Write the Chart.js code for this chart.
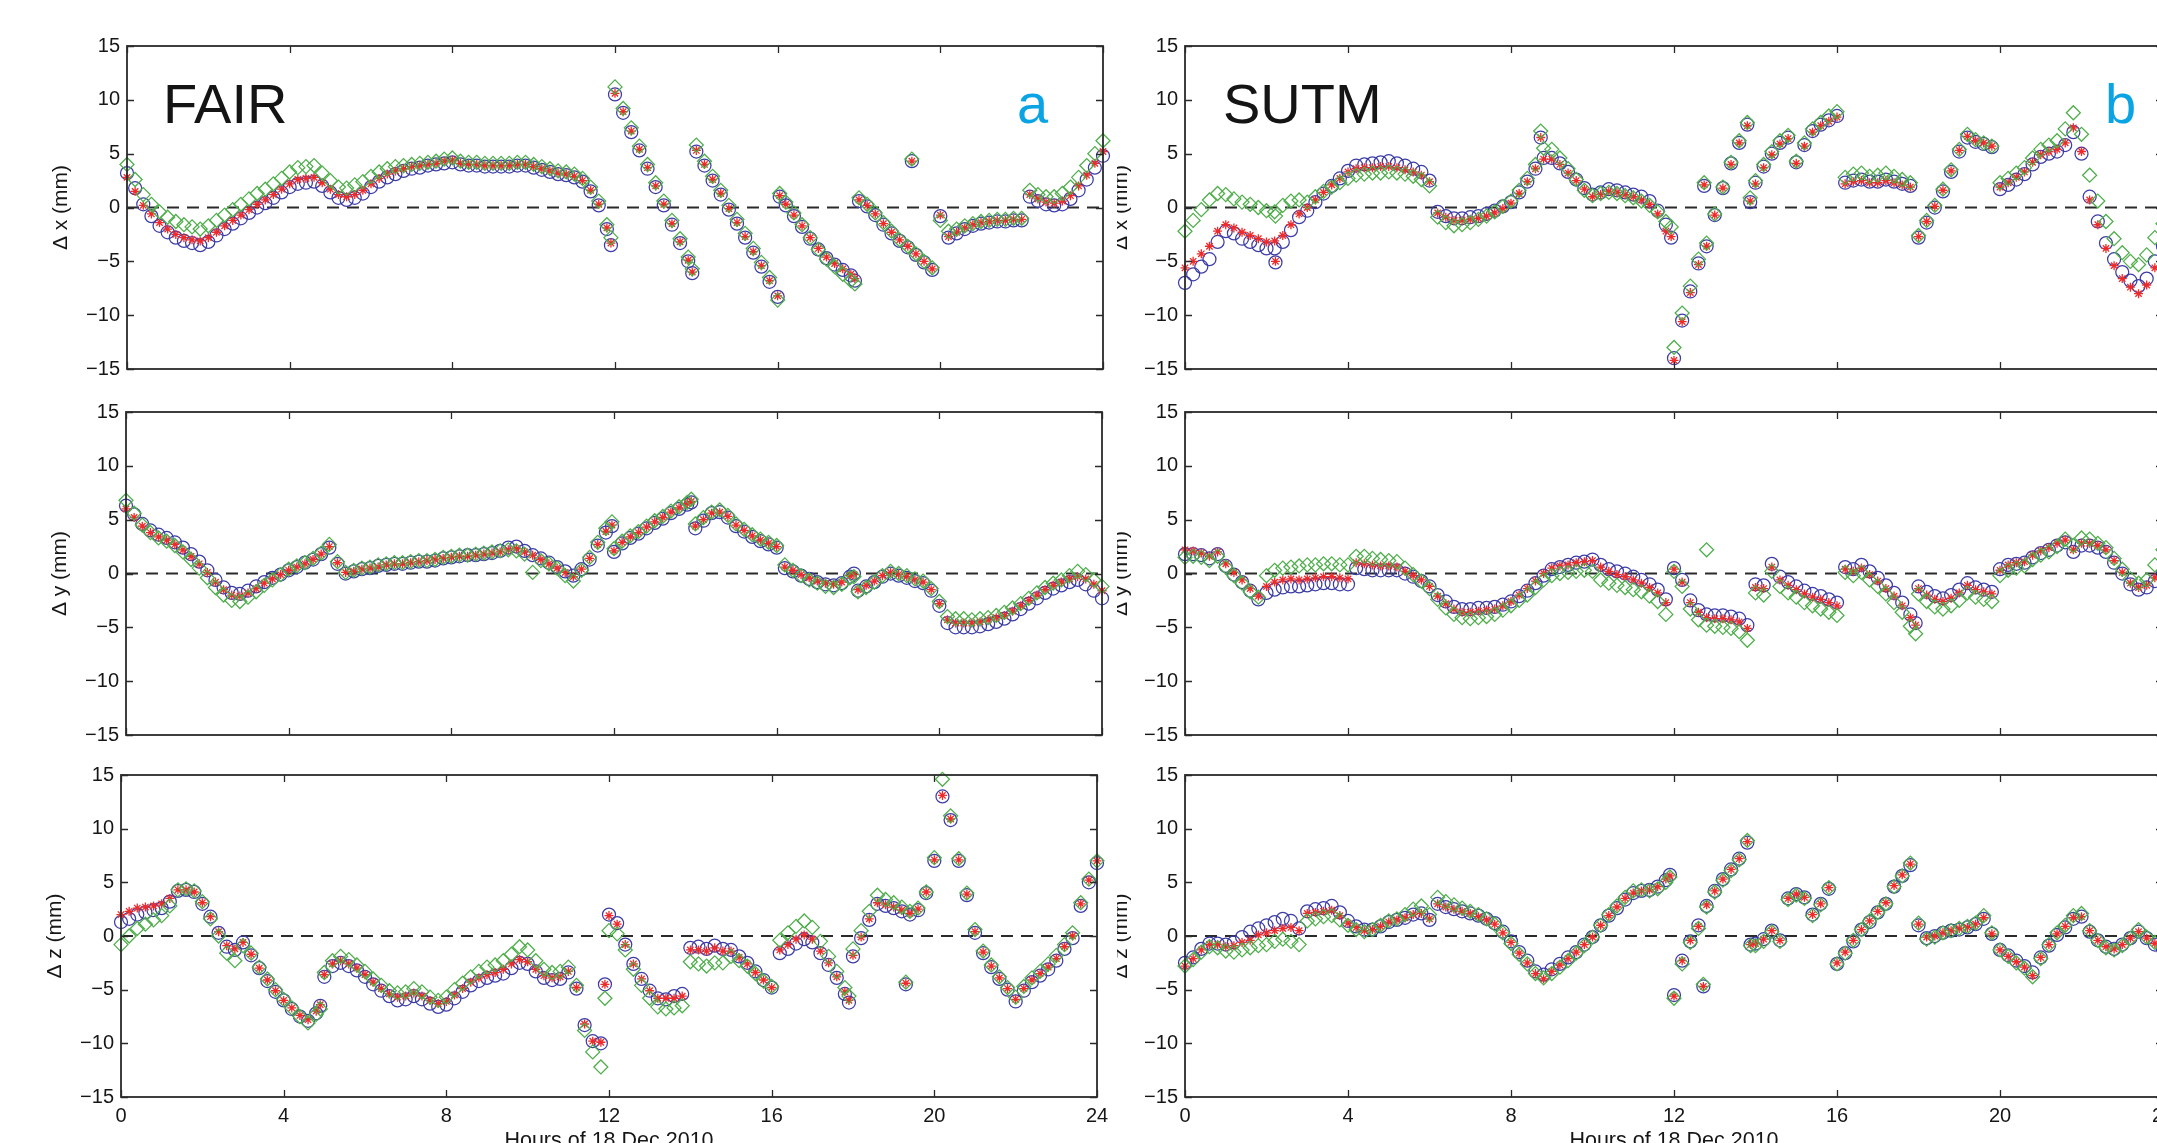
<!DOCTYPE html>
<html>
<head>
<meta charset="utf-8">
<script src="https://cdn.jsdelivr.net/npm/chart.js@4.4.0/dist/chart.umd.min.js"></script>
<style>
  html, body { margin: 0; padding: 0; background: #fff; overflow: hidden; }
  body { width: 2157px; height: 1143px; position: relative; }
  canvas { position: absolute; }
  canvas.leftcol { background: #fff; z-index: 2; }
  canvas.rightcol { z-index: 1; }
</style>
</head>
<body>
<script>
// sampling grid, hours of the day (every 12 minutes)
const hours = Array.from({ length: 121 }, (_, i) => Math.round(i * 2) / 10);
const hourTicks = [0, 4, 8, 12, 16, 20, 24];
const mmTicks = [-15, -10, -5, 0, 5, 10, 15];

// ---- FAIR, delta x ----
const tlBlue = [
  3.2, 1.8, 0.3, -0.8, -1.7, -2.3, -2.8, -3.1, -3.3, -3.5,
  -3.2, -2.6, -2.0, -1.5, -1.0, -0.5, 0.0, 0.4, 0.9, 1.4,
  1.9, 2.2, 2.3, 2.4, 2.0, 1.4, 0.9, 0.7, 0.9, 1.3,
  1.9, 2.4, 2.8, 3.1, 3.4, 3.6, 3.7, 3.9, 4.0, 4.1,
  4.2, 4.0, 3.9, 3.9, 3.8, 3.8, 3.8, 3.8, 3.9, 3.9,
  3.7, 3.5, 3.3, 3.1, 3.0, 2.8, 2.4, 1.5, 0.2, -2.0,
  10.5, 8.8, 7.0, 5.3, 3.6, 1.9, 0.2, -1.6, -3.3, -5.0,
  5.2, 3.9, 2.5, 1.2, -0.2, -1.5, -2.8, -4.2, -5.5, -6.9,
  -8.3, 0.2, -0.8, -1.8, -2.9, -3.9, -4.7, -5.3, -5.8, -6.3,
  0.6, 0.1, -0.7, -1.6, -2.4, -3.1, -3.7, -4.4, -5.1, -5.8,
  -0.8, -2.8, -2.4, -2.0, -1.7, -1.5, -1.4, -1.3, -1.3, -1.2,
  -1.2, 1.0, 0.6, 0.3, 0.2, 0.3, 0.8, 1.6, 2.6, 3.7,
  4.8
];
const tlRed = [
  2.8, 1.5, 0.2, -0.6, -1.4, -2.0, -2.5, -2.8, -3.0, -3.1,
  -2.8, -2.3, -1.7, -1.2, -0.7, -0.2, 0.3, 0.7, 1.2, 1.7,
  2.2, 2.6, 2.7, 2.8, 2.3, 1.7, 1.2, 1.0, 1.2, 1.6,
  2.2, 2.7, 3.1, 3.4, 3.6, 3.8, 3.9, 4.0, 4.1, 4.3,
  4.4, 4.1, 4.0, 4.0, 3.9, 3.9, 3.9, 3.9, 4.0, 4.0,
  3.8, 3.6, 3.4, 3.2, 3.1, 2.9, 2.5, 1.6, 0.3, -1.9,
  10.6, 8.9, 7.1, 5.4, 3.7, 2.0, 0.3, -1.5, -3.2, -4.9,
  5.3, 4.0, 2.6, 1.3, -0.1, -1.4, -2.7, -4.1, -5.4, -6.8,
  -8.2, 0.3, -0.7, -1.7, -2.8, -3.8, -4.6, -5.2, -5.7, -6.2,
  0.7, 0.2, -0.6, -1.5, -2.3, -3.0, -3.6, -4.3, -5.0, -5.7,
  -0.7, -2.7, -2.3, -1.9, -1.6, -1.4, -1.3, -1.2, -1.2, -1.1,
  -1.1, 1.2, 0.8, 0.5, 0.4, 0.6, 1.1, 2.0, 3.0, 4.1,
  5.2
];
const tlGreen = [
  4.0, 2.6, 1.2, 0.3, -0.4, -0.9, -1.3, -1.6, -1.8, -2.0,
  -1.7, -1.2, -0.7, -0.2, 0.3, 0.8, 1.3, 1.7, 2.2, 2.7,
  3.3, 3.7, 3.8, 3.9, 3.2, 2.5, 1.9, 1.8, 2.1, 2.4,
  2.9, 3.3, 3.6, 3.8, 3.9, 4.0, 4.1, 4.2, 4.3, 4.5,
  4.6, 4.3, 4.2, 4.2, 4.1, 4.1, 4.1, 4.1, 4.2, 4.2,
  4.0, 3.8, 3.6, 3.4, 3.3, 3.1, 2.7, 1.9, 0.6, -1.6,
  11.2, 9.2, 7.4, 5.7, 4.0, 2.3, 0.6, -1.2, -2.9, -4.6,
  5.8, 4.3, 2.9, 1.6, 0.2, -1.1, -2.4, -3.8, -5.1, -6.5,
  -8.6, 0.5, -0.5, -1.6, -2.8, -3.9, -4.8, -5.5, -6.2, -6.8,
  0.9, 0.3, -0.5, -1.4, -2.2, -3.0, -3.6, -4.3, -5.0, -5.6,
  -1.2, -2.2, -2.0, -1.7, -1.5, -1.3, -1.2, -1.1, -1.1, -1.0,
  -1.0, 1.6, 1.2, 1.0, 1.0, 1.3, 1.9, 2.8, 3.9, 5.0,
  6.2
];
const tlExtraHours = [11.9, 13.9, 16.05, 17.9, 19.3];
const tlExtraBlue = [-3.5, -6.1, 1.0, -6.8, 4.3];
const tlExtraRed = [-3.3, -6.0, 1.1, -6.6, 4.3];
const tlExtraGreen = [-2.8, -5.7, 1.3, -7.1, 4.5];

// ---- FAIR, delta y ----
const mlBlue = [
  6.3, 5.5, 4.6, 4.0, 3.6, 3.3, 2.9, 2.4, 1.8, 1.1,
  0.3, -0.6, -1.3, -1.8, -1.9, -1.6, -1.2, -0.8, -0.4, -0.1,
  0.3, 0.6, 1.0, 1.3, 1.8, 2.4, 0.9, 0.0, 0.2, 0.4,
  0.5, 0.7, 0.8, 0.9, 0.9, 1.0, 1.1, 1.1, 1.2, 1.4,
  1.5, 1.6, 1.7, 1.7, 1.8, 1.9, 2.1, 2.4, 2.5, 2.1,
  1.7, 1.4, 1.0, 0.6, 0.2, -0.2, 0.4, 1.3, 2.6, 3.8,
  2.0, 2.8, 3.3, 3.7, 4.2, 4.7, 5.1, 5.6, 6.0, 6.4,
  4.2, 4.9, 5.6, 5.7, 5.2, 4.4, 3.9, 3.4, 3.0, 2.7,
  2.4, 0.5, 0.2, -0.2, -0.5, -0.8, -1.0, -1.1, -0.9, -0.3,
  -1.6, -1.2, -0.8, -0.3, 0.0, -0.2, -0.4, -0.7, -0.9, -1.6,
  -3.0, -4.6, -5.0, -5.0, -5.0, -4.9, -4.7, -4.5, -4.2, -3.8,
  -3.3, -2.8, -2.3, -1.8, -1.4, -1.1, -0.8, -0.6, -1.0, -1.6,
  -2.3
];
const mlRed = [
  6.0, 5.2, 4.4, 3.8, 3.4, 3.1, 2.7, 2.2, 1.6, 0.9,
  0.1, -0.8, -1.5, -2.0, -2.1, -1.8, -1.4, -0.9, -0.5, -0.1,
  0.3, 0.6, 0.9, 1.3, 1.8, 2.5, 1.0, 0.1, 0.2, 0.4,
  0.5, 0.6, 0.8, 0.9, 0.9, 1.0, 1.1, 1.2, 1.3, 1.4,
  1.5, 1.6, 1.6, 1.7, 1.8, 1.9, 2.0, 2.2, 2.3, 2.0,
  1.7, 1.3, 0.9, 0.5, 0.1, -0.3, 0.4, 1.4, 2.7, 3.9,
  2.1, 2.9, 3.4, 3.8, 4.3, 4.8, 5.2, 5.7, 6.1, 6.5,
  4.4, 5.0, 5.6, 5.7, 5.3, 4.5, 4.0, 3.5, 3.1, 2.8,
  2.5, 0.6, 0.3, -0.1, -0.4, -0.7, -0.9, -1.0, -0.8, -0.2,
  -1.5, -1.1, -0.7, -0.2, 0.1, -0.1, -0.3, -0.6, -0.8, -1.5,
  -2.8, -4.3, -4.6, -4.6, -4.6, -4.5, -4.3, -4.1, -3.9, -3.5,
  -3.0, -2.5, -2.0, -1.5, -1.1, -0.8, -0.5, -0.3, -0.5, -1.0,
  -1.6
];
const mlGreen = [
  6.8, 5.6, 4.5, 3.8, 3.3, 3.0, 2.6, 2.0, 1.3, 0.5,
  -0.4, -1.3, -2.0, -2.5, -2.6, -2.2, -1.7, -1.1, -0.6, -0.1,
  0.4, 0.7, 1.0, 1.4, 1.9, 2.7, 1.1, 0.1, 0.3, 0.5,
  0.6, 0.8, 0.9, 1.0, 1.0, 1.1, 1.2, 1.2, 1.3, 1.5,
  1.6, 1.7, 1.7, 1.8, 1.9, 2.0, 2.1, 2.2, 2.1, 1.8,
  0.1, 1.2, 0.9, 0.5, -0.2, -0.7, 0.3, 1.5, 2.9, 4.2,
  2.3, 3.0, 3.5, 3.9, 4.4, 4.9, 5.3, 5.8, 6.2, 6.6,
  4.6, 5.2, 5.7, 5.9, 5.4, 4.6, 4.1, 3.6, 3.2, 2.9,
  2.6, 0.8, 0.3, -0.2, -0.6, -0.9, -1.2, -1.3, -1.0, -0.4,
  -1.7, -1.3, -0.8, -0.2, 0.2, 0.0, -0.2, -0.5, -0.7, -1.4,
  -2.6, -4.0, -4.2, -4.2, -4.3, -4.2, -4.1, -3.9, -3.6, -3.2,
  -2.8, -2.3, -1.8, -1.3, -0.9, -0.6, -0.2, 0.2, -0.1, -0.6,
  -1.2
];
const mlExtraHours = [11.95, 13.9, 17.9];
const mlExtraBlue = [4.4, 6.6, 0.0];
const mlExtraRed = [4.5, 6.7, -0.1];
const mlExtraGreen = [4.8, 6.9, -0.3];

// ---- FAIR, delta z ----
const blBlue = [
  1.3, 1.6, 2.0, 2.2, 2.4, 2.6, 3.2, 4.2, 4.3, 4.1,
  3.0, 1.8, 0.3, -1.0, -1.3, -0.6, -1.8, -3.0, -4.2, -5.2,
  -6.0, -6.8, -7.5, -7.9, -7.2, -3.8, -2.8, -2.5, -2.8, -3.2,
  -3.8, -4.5, -5.1, -5.6, -6.0, -5.9, -5.6, -5.9, -6.3, -6.6,
  -6.4, -5.8, -5.2, -4.6, -4.2, -3.9, -3.7, -3.5, -3.0, -2.5,
  -2.6, -3.3, -3.9, -4.1, -4.0, -3.4, -4.9, -8.3, -9.8, -10.0,
  2.0, 1.2, -0.8, -2.6, -4.0, -5.1, -5.8, -5.9, -5.6, -5.4,
  -1.1, -1.0, -1.2, -0.9, -1.2, -1.3, -1.9, -2.5, -3.3, -4.1,
  -4.8, -1.6, -1.2, -0.7, -0.3, -0.6, -1.6, -2.7, -3.9, -5.4,
  -1.9, -0.2, 1.5, 3.0, 2.8, 2.6, 2.3, 2.0, 2.4, 4.0,
  7.0, 13.0, 10.8, 7.0, 3.8, 0.3, -1.6, -2.9, -4.0, -5.0,
  -6.1, -5.1, -4.3, -3.7, -3.1, -2.3, -1.2, -0.2, 2.8, 5.0,
  6.8
];
const blRed = [
  2.0, 2.3, 2.6, 2.7, 2.8, 3.0, 3.5, 4.3, 4.3, 4.1,
  3.1, 1.8, 0.4, -0.9, -1.2, -0.6, -1.7, -3.0, -4.1, -5.1,
  -6.0, -6.7, -7.4, -7.8, -7.0, -3.6, -2.6, -2.3, -2.6, -3.0,
  -3.6, -4.3, -4.9, -5.4, -5.7, -5.6, -5.3, -5.6, -6.0, -6.3,
  -6.1, -5.5, -4.9, -4.3, -3.9, -3.6, -3.4, -3.1, -2.6, -2.2,
  -2.4, -3.1, -3.7, -3.9, -3.8, -3.3, -4.8, -8.2, -9.8, -9.9,
  1.9, 1.1, -0.8, -2.6, -4.0, -5.1, -5.8, -5.8, -5.8, -5.6,
  -1.3, -1.3, -1.4, -1.1, -1.4, -1.4, -2.0, -2.6, -3.4, -4.1,
  -4.8, -1.3, -0.8, -0.3, 0.1, -0.3, -1.4, -2.5, -3.8, -5.2,
  -1.8, -0.1, 1.6, 3.1, 2.9, 2.7, 2.4, 2.1, 2.5, 4.1,
  7.1, 13.1, 10.9, 7.1, 3.9, 0.4, -1.5, -2.8, -3.9, -4.9,
  -5.9, -4.9, -4.1, -3.5, -2.9, -2.1, -1.0, 0.0, 3.0, 5.2,
  7.0
];
const blGreen = [
  -0.8, 0.0, 0.7, 1.1, 1.5, 1.9, 2.8, 4.3, 4.4, 4.2,
  3.2, 1.6, 0.0, -1.6, -2.3, -0.9, -1.6, -2.9, -4.0, -5.0,
  -5.9, -6.7, -7.5, -8.1, -7.3, -3.4, -2.3, -1.9, -2.2, -2.7,
  -3.3, -4.0, -4.6, -5.1, -5.3, -5.2, -4.9, -5.2, -5.7, -6.0,
  -5.7, -5.0, -4.4, -3.8, -3.3, -2.9, -2.7, -2.3, -1.7, -1.0,
  -1.3, -2.3, -3.1, -3.4, -3.3, -2.9, -4.6, -8.8, -10.8, -12.2,
  0.5, 0.2, -1.3, -3.1, -4.6, -5.8, -6.6, -6.8, -6.7, -6.5,
  -2.4, -2.6, -2.8, -2.5, -2.5, -1.9, -2.3, -2.8, -3.5, -4.2,
  -4.7, -0.4, 0.3, 0.9, 1.4, 0.8, -0.5, -1.9, -3.3, -4.8,
  -1.2, 0.5, 2.3, 3.8, 3.4, 3.1, 2.7, 2.3, 2.6, 4.1,
  7.3, 14.6, 11.2, 7.2, 4.0, 0.6, -1.4, -2.7, -3.8, -4.8,
  -5.7, -4.7, -3.9, -3.3, -2.6, -1.8, -0.8, 0.3, 3.1, 5.3,
  7.0
];
const blExtraHours = [11.9, 17.9, 19.3, 4.9];
const blExtraBlue = [-4.5, -6.2, -4.5, -6.5];
const blExtraRed = [-4.5, -6.0, -4.4, -6.4];
const blExtraGreen = [-5.8, -5.6, -4.3, -6.8];

// ---- SUTM, delta x ----
const trBlue = [
  -7.0, -6.2, -5.5, -4.8, -3.2, -2.2, -2.4, -2.9, -3.2, -3.5,
  -3.8, -3.8, -3.2, -2.1, -0.9, -0.3, 0.5, 1.3, 2.0, 2.7,
  3.4, 3.9, 4.0, 4.1, 4.2, 4.3, 4.1, 3.9, 3.6, 3.3,
  2.5, -0.4, -0.8, -1.0, -1.0, -0.9, -0.8, -0.6, -0.3, 0.1,
  0.5, 1.4, 2.4, 3.6, 4.6, 4.6, 4.1, 3.3, 2.6, 1.8,
  1.2, 1.4, 1.7, 1.6, 1.4, 1.2, 1.0, 0.6, -0.3, -1.6,
  -14.0, -10.5, -7.8, -5.2, -3.6, -0.7, 1.8, 4.1, 6.0, 7.7,
  2.3, 3.8, 5.0, 6.0, 6.5, 4.2, 5.8, 7.1, 7.7, 8.1,
  8.5, 2.3, 2.5, 2.6, 2.4, 2.4, 2.6, 2.4, 2.2, 2.0,
  -2.8, -1.4, 0.0, 1.5, 3.3, 5.2, 6.5, 6.1, 5.9, 5.6,
  1.7, 2.1, 2.6, 3.1, 4.0, 4.7, 5.0, 5.2, 5.8, 7.0,
  5.0, 1.0, -1.3, -3.3, -4.8, -6.0, -6.8, -7.3, -6.6, -5.0,
  -3.6
];
const trRed = [
  -5.6, -5.0, -4.3, -3.6, -2.2, -1.6, -1.9, -2.3, -2.6, -2.9,
  -3.2, -3.1, -2.6, -1.6, -0.6, 0.0, 0.7, 1.4, 2.1, 2.7,
  3.3, 3.6, 3.7, 3.7, 3.8, 3.8, 3.7, 3.5, 3.3, 3.0,
  2.4, -0.5, -0.9, -1.2, -1.2, -1.1, -1.0, -0.8, -0.5, -0.1,
  0.4, 1.3, 2.4, 3.6, 4.5, 4.5, 4.0, 3.2, 2.5, 1.7,
  1.0, 1.2, 1.5, 1.4, 1.2, 1.0, 0.7, 0.3, -0.6, -2.2,
  -14.2, -10.6, -7.9, -5.3, -3.6, -0.7, 1.8, 4.0, 6.0, 7.6,
  2.2, 3.7, 4.9, 5.9, 6.4, 4.1, 5.7, 7.0, 7.6, 8.0,
  8.4, 2.2, 2.4, 2.5, 2.3, 2.3, 2.5, 2.3, 2.1, 1.9,
  -2.7, -1.3, 0.1, 1.6, 3.4, 5.3, 6.6, 6.2, 6.0, 5.7,
  1.9, 2.3, 2.8, 3.3, 4.2, 4.9, 5.2, 5.4, 6.0, 7.4,
  5.2, 0.7, -1.6, -3.8, -5.4, -6.6, -7.4, -8.0, -7.2, -5.6,
  -4.0
];
const trGreen = [
  -2.2, -1.2, -0.2, 0.7, 1.3, 1.2, 0.8, 0.5, 0.3, 0.0,
  -0.3, -0.4, 0.2, 0.6, 0.7, 0.5, 1.0, 1.5, 1.9, 2.3,
  2.7, 3.0, 3.1, 3.2, 3.2, 3.3, 3.2, 3.1, 2.9, 2.6,
  2.0, -0.9, -1.4, -1.7, -1.6, -1.4, -1.1, -0.8, -0.4, 0.1,
  0.6, 1.6, 2.7, 4.0, 5.5, 5.4, 4.6, 3.6, 2.6, 1.6,
  1.1, 1.3, 1.4, 1.3, 1.1, 0.9, 0.6, 0.2, -0.4, -1.3,
  -13.0, -9.8, -7.3, -4.8, -3.3, -0.6, 1.9, 4.2, 6.2, 7.9,
  2.5, 4.0, 5.2, 6.2, 6.7, 4.3, 6.0, 7.3, 7.9, 8.5,
  8.9, 2.8, 3.1, 3.2, 2.9, 3.0, 3.2, 2.9, 2.6, 2.3,
  -2.6, -1.2, 0.2, 1.7, 3.5, 5.4, 6.8, 6.3, 6.0, 5.7,
  2.3, 2.7, 3.2, 3.7, 4.6, 5.4, 5.8, 6.2, 7.3, 8.8,
  6.8, 3.0, 0.6, -1.3, -2.9, -4.2, -5.0, -5.3, -4.4, -2.8,
  -1.5
];
const trExtraHours = [2.22, 8.73, 11.93, 12.74, 13.87];
const trExtraBlue = [-5.1, 6.5, -2.8, 2.0, 0.5];
const trExtraRed = [-5.0, 6.5, -2.7, 2.1, 0.6];
const trExtraGreen = [-0.8, 7.1, -1.8, 2.3, 0.9];

// ---- SUTM, delta y ----
const mrBlue = [
  1.8, 1.8, 1.7, 1.4, 1.8, 0.7, -0.1, -0.8, -1.6, -2.4,
  -1.8, -1.5, -1.3, -1.2, -1.2, -1.1, -1.0, -0.9, -0.9, -1.0,
  -1.0, 0.5, 0.4, 0.3, 0.3, 0.3, 0.3, 0.0, -0.3, -0.7,
  -1.2, -2.0, -2.6, -3.1, -3.3, -3.3, -3.2, -3.2, -3.1, -2.9,
  -2.6, -2.1, -1.6, -0.9, -0.2, 0.4, 0.6, 0.8, 1.0, 1.1,
  1.3, 0.8, 0.4, 0.2, 0.0, -0.3, -0.6, -1.0, -1.5, -2.4,
  0.5, -0.6, -2.5, -3.4, -3.8, -3.9, -3.9, -4.0, -4.2, -4.8,
  -1.0, -1.1, 0.9, -0.3, -0.8, -1.2, -1.6, -1.9, -2.1, -2.4,
  -2.7, 0.6, 0.4, 0.8, 0.2, -0.4, -1.1, -1.8, -2.7, -3.8,
  -1.2, -1.7, -2.1, -2.3, -2.0, -1.5, -0.9, -1.3, -1.5, -1.7,
  0.4, 0.8, 0.9, 1.0, 1.5, 1.9, 2.2, 2.6, 2.9, 2.0,
  2.6, 2.6, 2.4, 2.0, 1.0, 0.0, -1.0, -1.5, -1.3, -0.7,
  0.0
];
const mrRed = [
  2.2, 2.1, 1.9, 1.6, 2.0, 0.9, 0.1, -0.6, -1.4, -2.1,
  -1.2, -0.8, -0.6, -0.5, -0.6, -0.5, -0.4, -0.3, -0.3, -0.4,
  -0.5, 1.0, 0.9, 0.8, 0.7, 0.7, 0.6, 0.2, -0.2, -0.6,
  -1.2, -2.1, -2.8, -3.3, -3.6, -3.6, -3.5, -3.4, -3.3, -3.0,
  -2.6, -2.0, -1.4, -0.7, 0.0, 0.5, 0.7, 0.8, 1.0, 1.1,
  1.2, 0.6, 0.2, -0.1, -0.3, -0.6, -0.9, -1.3, -1.8, -2.7,
  0.4, -0.8, -2.7, -3.6, -4.1, -4.2, -4.2, -4.3, -4.5, -5.1,
  -1.3, -1.4, 0.6, -0.6, -1.1, -1.5, -1.9, -2.2, -2.4, -2.7,
  -3.0, 0.4, 0.2, 0.5, -0.1, -0.7, -1.4, -2.1, -3.0, -4.1,
  -1.4, -2.0, -2.4, -2.6, -2.3, -1.8, -1.1, -1.5, -1.7, -1.9,
  0.3, 0.8, 1.0, 1.1, 1.7, 2.1, 2.4, 2.8, 3.1, 2.2,
  2.8, 2.8, 2.6, 2.2, 1.2, 0.1, -0.9, -1.3, -1.1, -0.4,
  0.3
];
const mrGreen = [
  1.5, 1.6, 1.5, 1.2, 1.6, 0.6, -0.2, -0.9, -1.7, -2.2,
  -0.2, 0.3, 0.5, 0.6, 0.7, 0.8, 0.8, 0.9, 0.9, 0.8,
  0.8, 1.6, 1.6, 1.4, 1.3, 1.2, 1.1, 0.5, -0.1, -0.7,
  -1.4, -2.4, -3.2, -3.8, -4.1, -4.2, -4.1, -4.0, -3.8, -3.4,
  -3.0, -2.5, -2.0, -1.3, -0.6, -0.2, 0.0, 0.1, 0.2, 0.3,
  0.2, -0.6, -0.9, -1.1, -1.3, -1.5, -1.7, -2.1, -2.6, -3.8,
  0.2, -1.2, -3.3, -4.3, -4.8, -4.9, -5.0, -5.1, -5.4, -6.2,
  -1.8, -2.0, 0.2, -1.2, -1.8, -2.2, -2.7, -3.0, -3.3, -3.6,
  -3.9, 0.1, -0.2, 0.1, -0.6, -1.2, -1.9, -2.7, -3.6, -4.9,
  -1.9, -2.6, -3.1, -3.3, -3.0, -2.5, -1.8, -2.2, -2.4, -2.6,
  -0.2, 0.3, 0.5, 0.7, 1.3, 1.7, 2.0, 2.5, 3.2, 2.6,
  3.3, 3.2, 2.8, 2.4, 1.4, 0.4, -0.5, -0.9, -0.6, 0.8,
  2.2
];
const mrExtraHours = [12.8, 17.93];
const mrExtraBlue = [null, -4.6];
const mrExtraRed = [null, -4.8];
const mrExtraGreen = [2.2, -5.6];

// ---- SUTM, delta z ----
const brBlue = [
  -2.5, -2.0, -1.2, -0.7, -0.7, -0.8, -0.6, -0.1, 0.4, 0.7,
  1.0, 1.3, 1.6, 1.4, 0.7, 2.3, 2.5, 2.6, 2.8, 2.2,
  1.4, 0.9, 0.6, 0.6, 0.9, 1.3, 1.5, 1.7, 2.0, 2.1,
  1.5, 3.0, 2.7, 2.5, 2.3, 2.1, 1.9, 1.6, 1.2, 0.4,
  -0.5, -1.5, -2.3, -3.3, -3.6, -3.1, -2.6, -2.0, -1.5, -0.8,
  -0.1, 1.0, 1.9, 2.6, 3.4, 4.0, 4.2, 4.3, 4.6, 5.2,
  -5.5, -2.3, -0.5, 1.0, 2.8, 4.2, 5.3, 6.2, 7.2, 8.7,
  -0.7, -0.3, 0.5, -0.4, 3.5, 3.9, 3.6, 2.0, 3.0, 4.4,
  -2.6, -1.6, -0.5, 0.6, 1.3, 2.2, 3.0, 4.6, 5.6, 6.6,
  1.0, -0.2, 0.0, 0.3, 0.5, 0.6, 0.8, 1.1, 1.6, 0.2,
  -1.3, -1.8, -2.3, -2.8, -3.4, -2.0, -0.9, 0.1, 0.8, 1.6,
  1.8, 0.4, -0.4, -1.0, -1.2, -0.8, -0.2, 0.4, -0.2, -0.8,
  -1.2
];
const brRed = [
  -2.8, -2.1, -1.3, -0.8, -0.8, -1.0, -0.9, -0.6, -0.4, 0.1,
  0.3, 0.5, 0.7, 0.8, 0.5, 2.1, 2.2, 2.3, 2.4, 1.9,
  1.2, 0.8, 0.5, 0.6, 0.9, 1.3, 1.5, 1.7, 2.0, 2.1,
  1.6, 3.0, 2.7, 2.5, 2.3, 2.1, 1.8, 1.5, 1.1, 0.3,
  -0.6, -1.6, -2.5, -3.5, -4.0, -3.3, -2.7, -2.1, -1.5, -0.8,
  -0.1, 1.0, 1.9, 2.7, 3.5, 4.0, 4.2, 4.3, 4.6, 5.3,
  -5.6, -2.3, -0.4, 0.9, 2.9, 4.2, 5.3, 6.2, 7.2, 8.8,
  -0.7, -0.3, 0.5, -0.4, 3.5, 3.9, 3.6, 2.0, 3.0, 4.5,
  -2.5, -1.5, -0.4, 0.6, 1.4, 2.3, 3.1, 4.7, 5.7, 6.7,
  1.1, -0.1, 0.0, 0.3, 0.5, 0.7, 0.8, 1.1, 1.7, 0.2,
  -1.3, -1.9, -2.4, -2.9, -3.7, -2.0, -0.8, 0.2, 0.9, 1.7,
  1.8, 0.5, -0.4, -1.0, -1.2, -0.8, -0.2, 0.4, -0.2, -0.7,
  -1.1
];
const brGreen = [
  -2.8, -2.2, -1.5, -1.0, -1.1, -1.4, -1.5, -1.3, -1.1, -0.9,
  -0.8, -0.5, -0.3, -0.5, -0.8, 1.4, 1.6, 1.8, 1.9, 1.5,
  1.0, 0.6, 0.4, 0.6, 1.0, 1.4, 1.6, 2.0, 2.5, 2.8,
  2.0, 3.6, 3.2, 2.9, 2.6, 2.3, 2.0, 1.6, 1.1, 0.3,
  -0.7, -1.7, -2.6, -3.5, -3.9, -3.5, -2.9, -2.3, -1.6, -0.9,
  -0.1, 1.0, 2.0, 2.8, 3.6, 4.2, 4.3, 4.2, 4.4, 5.0,
  -5.8, -2.6, -0.6, 0.7, 2.7, 4.1, 5.2, 6.1, 7.1, 8.9,
  -0.9, -0.5, 0.4, -0.5, 3.4, 3.8, 3.5, 1.9, 2.9, 4.5,
  -2.6, -1.6, -0.4, 0.6, 1.4, 2.2, 3.0, 4.6, 5.6, 6.8,
  1.2, -0.3, -0.1, 0.3, 0.5, 0.7, 0.9, 1.2, 1.9, 0.3,
  -1.3, -1.9, -2.5, -3.0, -3.8, -2.1, -0.8, 0.3, 1.0, 1.9,
  2.1, 0.5, -0.4, -1.1, -1.3, -0.9, -0.2, 0.6, -0.1, -0.6,
  -1.0
];
const brExtraHours = [11.9, 12.72, 13.88];
const brExtraBlue = [5.7, -4.7, -0.8];
const brExtraRed = [5.6, -4.7, -0.8];
const brExtraGreen = [5.5, -4.5, -0.9];

const FONT = "'Liberation Sans', Arial, Helvetica, sans-serif";
const BLUE = '#3c3ca6';
const RED = '#ee2b2b';
const GREEN = '#4eae4a';

// box, inward ticks and the panel captions
const framePlugin = {
  id: 'frame',
  afterDatasetsDraw(chart, args, opts) {
    const { ctx, chartArea: a } = chart;
    const xs = chart.scales.x;
    const ys = chart.scales.y;
    ctx.save();
    ctx.strokeStyle = '#2a2a2a';
    ctx.lineWidth = 1.3;
    ctx.beginPath();
    xs.ticks.forEach(t => {
      const px = Math.round(xs.getPixelForValue(t.value)) + 0.5;
      ctx.moveTo(px, a.bottom); ctx.lineTo(px, a.bottom - 7);
      ctx.moveTo(px, a.top); ctx.lineTo(px, a.top + 7);
    });
    ys.ticks.forEach(t => {
      const py = Math.round(ys.getPixelForValue(t.value)) + 0.5;
      ctx.moveTo(a.left, py); ctx.lineTo(a.left + 7, py);
      ctx.moveTo(a.right, py); ctx.lineTo(a.right - 7, py);
    });
    ctx.stroke();
    ctx.lineWidth = 1.8;
    ctx.strokeRect(a.left, a.top, a.right - a.left, a.bottom - a.top);
    if (opts.name) {
      ctx.font = '56px ' + FONT;
      ctx.textAlign = 'left';
      ctx.textBaseline = 'alphabetic';
      ctx.fillStyle = '#141414';
      ctx.fillText(opts.name, a.left + opts.nameDx, a.top + 77);
      ctx.fillStyle = '#0aa3e4';
      ctx.fillText(opts.letter, a.left + opts.letterDx, a.top + 77);
    }
    ctx.restore();
  }
};

function points(vals, exHours, exVals) {
  const out = [];
  hours.forEach((h, i) => { if (vals[i] !== null) out.push({ x: h, y: vals[i] }); });
  exHours.forEach((h, i) => { if (exVals[i] !== null) out.push({ x: h, y: exVals[i] }); });
  return out;
}

function mmLabel(v) {
  return v < 0 ? '\u2212' + (-v) : String(v);
}

const panels = [
  { L: 127, T: 46, R: 1103, B: 369, leftCol: true, bottom: false, yTitle: 'Δ x (mm)',
    name: 'FAIR', letter: 'a', nameDx: 36, letterDx: 890,
    blue: tlBlue, red: tlRed, green: tlGreen, exH: tlExtraHours, exB: tlExtraBlue, exR: tlExtraRed, exG: tlExtraGreen },
  { L: 126, T: 412, R: 1102, B: 735, leftCol: true, bottom: false, yTitle: 'Δ y (mm)',
    blue: mlBlue, red: mlRed, green: mlGreen, exH: mlExtraHours, exB: mlExtraBlue, exR: mlExtraRed, exG: mlExtraGreen },
  { L: 121, T: 775, R: 1097, B: 1097, leftCol: true, bottom: true, yTitle: 'Δ z (mm)',
    blue: blBlue, red: blRed, green: blGreen, exH: blExtraHours, exB: blExtraBlue, exR: blExtraRed, exG: blExtraGreen },
  { L: 1185, T: 46, R: 2163, B: 369, leftCol: false, bottom: false, yTitle: 'Δ x (mm)',
    name: 'SUTM', letter: 'b', nameDx: 38, letterDx: 920,
    blue: trBlue, red: trRed, green: trGreen, exH: trExtraHours, exB: trExtraBlue, exR: trExtraRed, exG: trExtraGreen },
  { L: 1185, T: 412, R: 2163, B: 735, leftCol: false, bottom: false, yTitle: 'Δ y (mm)',
    blue: mrBlue, red: mrRed, green: mrGreen, exH: mrExtraHours, exB: mrExtraBlue, exR: mrExtraRed, exG: mrExtraGreen },
  { L: 1185, T: 775, R: 2163, B: 1097, leftCol: false, bottom: true, yTitle: 'Δ z (mm)',
    blue: brBlue, red: brRed, green: brGreen, exH: brExtraHours, exB: brExtraBlue, exR: brExtraRed, exG: brExtraGreen }
];

const AXIS_W = 100;
const PAD_TOP = 20;
const LEFT_COL_EDGE = 1117; // the left column hides what lies under it up to here

panels.forEach(p => {
  const padR = p.leftCol ? LEFT_COL_EDGE - p.R : 20;
  const axisH = p.bottom ? 60 : 0;
  const padB = p.bottom ? 0 : 10;
  const canvas = document.createElement('canvas');
  canvas.className = p.leftCol ? 'leftcol' : 'rightcol';
  canvas.width = p.R - p.L + AXIS_W + padR;
  canvas.height = p.B - p.T + PAD_TOP + axisH + padB;
  canvas.style.left = (p.L - AXIS_W) + 'px';
  canvas.style.top = (p.T - PAD_TOP) + 'px';
  document.body.appendChild(canvas);

  new Chart(canvas.getContext('2d'), {
    type: 'scatter',
    data: {
      datasets: [
        { label: 'green', data: points(p.green, p.exH, p.exG), pointStyle: 'rectRot', pointRadius: 7,
          borderColor: GREEN, backgroundColor: 'rgba(0,0,0,0)', borderWidth: 1.25, order: 0, clip: false },
        { label: 'red', data: points(p.red, p.exH, p.exR), pointStyle: 'star', pointRadius: 4.5,
          borderColor: RED, backgroundColor: RED, borderWidth: 1.3, order: 1, clip: false },
        { label: 'blue', data: points(p.blue, p.exH, p.exB), pointStyle: 'circle', pointRadius: 6.5,
          borderColor: BLUE, backgroundColor: 'rgba(0,0,0,0)', borderWidth: 1.25, order: 2, clip: false },
        { label: 'zero', data: [{ x: 0, y: 0 }, { x: 24, y: 0 }], showLine: true, pointRadius: 0,
          borderColor: '#2a2a2a', borderWidth: 2, borderDash: [12, 8], order: 3 }
      ]
    },
    options: {
      responsive: false,
      animation: false,
      devicePixelRatio: 1,
      layout: { padding: { left: 0, top: PAD_TOP, right: padR, bottom: padB } },
      plugins: {
        legend: { display: false },
        tooltip: { enabled: false },
        frame: { name: p.name, letter: p.letter, nameDx: p.nameDx, letterDx: p.letterDx }
      },
      scales: {
        x: {
          type: 'linear', min: 0, max: 24,
          afterBuildTicks: s => { s.ticks = hourTicks.map(v => ({ value: v })); },
          ticks: { display: p.bottom, color: '#161616', padding: 7, maxRotation: 0,
                   font: { family: FONT, size: 20 } },
          grid: { display: false, drawTicks: false },
          border: { display: false },
          title: { display: p.bottom, text: 'Hours of 18 Dec 2010', color: '#161616',
                   font: { family: FONT, size: 21.5 }, padding: { top: 0, bottom: 3 } },
          afterFit: s => { s.height = axisH; s.paddingLeft = 0; s.paddingRight = 0; }
        },
        y: {
          type: 'linear', min: -15, max: 15,
          afterBuildTicks: s => { s.ticks = mmTicks.map(v => ({ value: v })); },
          ticks: { color: '#161616', padding: 7, callback: mmLabel,
                   font: { family: FONT, size: 20 } },
          grid: { display: false, drawTicks: false },
          border: { display: false },
          title: { display: true, text: p.yTitle, color: '#161616',
                   font: { family: FONT, size: 21 },
                   padding: { top: p.leftCol ? 21.9 : 23.9, bottom: 0 } },
          afterFit: s => { s.width = AXIS_W; s.paddingTop = 0; s.paddingBottom = 0; }
        }
      }
    },
    plugins: [framePlugin]
  });
});
</script>
</body>
</html>
